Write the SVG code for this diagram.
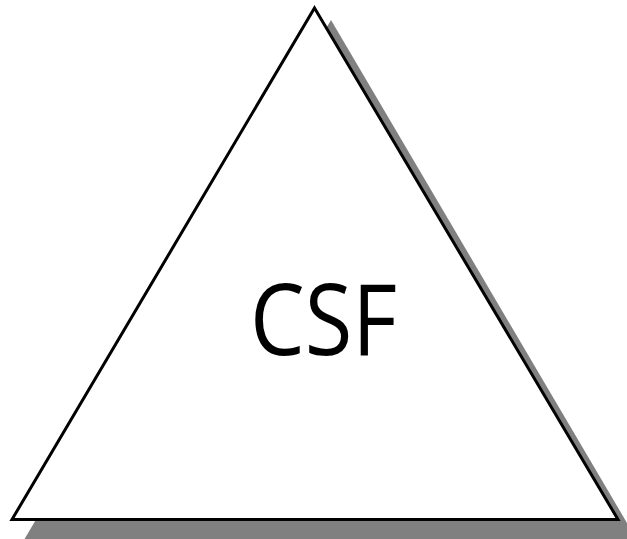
<svg xmlns="http://www.w3.org/2000/svg" width="627" height="539" viewBox="0 0 627 539">
<style>
.shadow{fill:#808080;stroke:none}
.tri{fill:#ffffff;stroke:#000000;stroke-width:3;stroke-linejoin:miter;stroke-miterlimit:20}
.lbl{font-family:"Open Sans","Noto Sans",sans-serif;font-size:98px;fill:#000000}
</style>
<rect width="627" height="539" fill="#ffffff"/>
<g id="csf">
<polygon class="shadow" points="331,20 640,545 21,545"/>
<polygon class="tri" points="314.5,8 618,519.5 12,519.5"/>
<text class="lbl" x="250" y="355" textLength="147" lengthAdjust="spacingAndGlyphs">CSF</text>
</g>
<g id="connectors"/>
</svg>
